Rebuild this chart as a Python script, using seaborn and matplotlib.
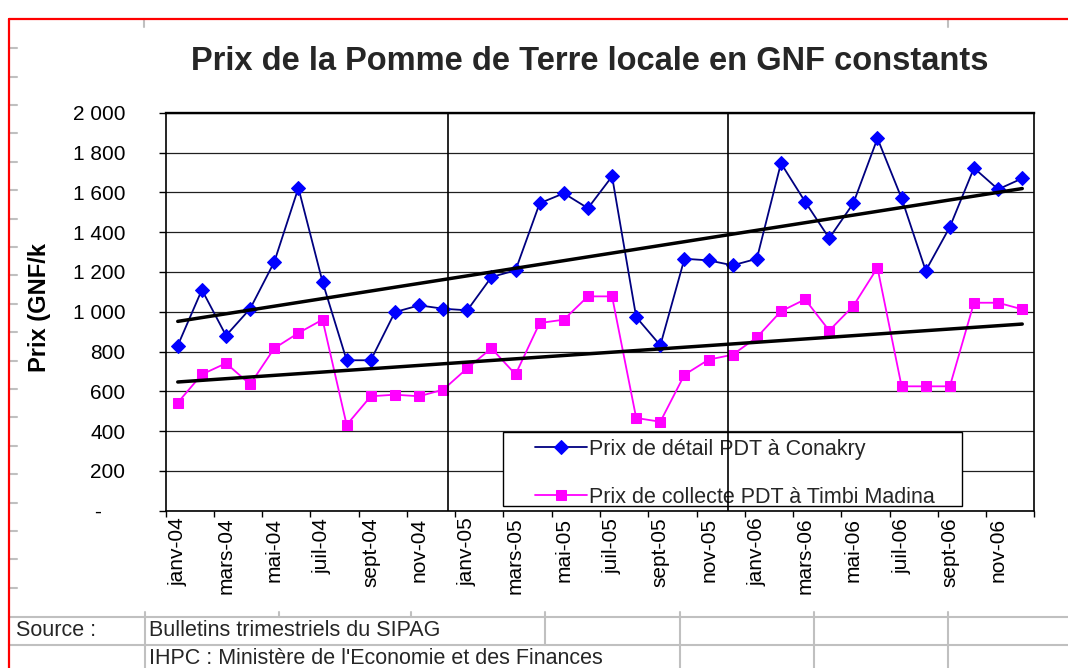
import numpy as np
import matplotlib.pyplot as plt
import matplotlib.transforms as mtransforms
from matplotlib.patches import Rectangle
import seaborn as sns

# data (GNF constants / kg), janv-04 .. déc-06
mois_noms = ['janv', 'févr', 'mars', 'avr', 'mai', 'juin',
             'juil', 'août', 'sept', 'oct', 'nov', 'déc']
annees = ['04', '05', '06']
mois = [f'{m}-{a}' for a in annees for m in mois_noms]

prix_detail = [830, 1110, 880, 1015, 1250, 1622, 1150, 756, 756, 998, 1032, 1015,
               1007, 1174, 1208, 1545, 1595, 1520, 1680, 973, 831, 1266, 1258, 1233,
               1266, 1746, 1553, 1369, 1545, 1871, 1570, 1206, 1426, 1722, 1615, 1670]
prix_collecte = [543, 685, 741, 635, 816, 893, 960, 431, 575, 583, 575, 608,
                 716, 816, 685, 943, 960, 1077, 1077, 466, 447, 683, 759, 784,
                 871, 1002, 1062, 905, 1029, 1221, 625, 625, 625, 1045, 1045, 1012]

y_ticks = [0, 200, 400, 600, 800, 1000, 1200, 1400, 1600, 1800, 2000]
y_labels = ['-', '200', '400', '600', '800', '1 000', '1 200', '1 400',
            '1 600', '1 800', '2 000']

label_detail = 'Prix de détail PDT à Conakry'
label_collecte = 'Prix de collecte PDT à Timbi Madina'

sns.set_theme(style='white')
plt.rcParams['font.family'] = ['Liberation Sans', 'DejaVu Sans']

W, H = 1068, 668
fig = plt.figure(figsize=(W / 100, H / 100), dpi=100)
fig.patch.set_facecolor('white')

# sheet background (cells around the chart object), in pixel coords
bg = fig.add_axes([0, 0, 1, 1], zorder=0)
bg.set_xlim(0, W)
bg.set_ylim(H, 0)
bg.axis('off')
grey = '#C0C0C0'
for y in np.arange(48.3, 600, 28.4):
    bg.plot([9, 17], [y, y], color=grey, lw=1.5)
for x in [144, 948]:
    bg.plot([x, x], [19, 27], color=grey, lw=1.5)
for y in [617, 645]:
    bg.plot([9, W], [y, y], color=grey, lw=1.5)
bg.plot([145, 145], [612, H], color=grey, lw=1.5)
for x in [279, 411]:
    bg.plot([x, x], [612, 617], color=grey, lw=1.5)
bg.plot([545, 545], [612, 645], color=grey, lw=1.5)
for x in [680, 814, 948]:
    bg.plot([x, x], [612, H], color=grey, lw=1.5)
bg.plot([9, W], [19, 19], color='#FF0000', lw=1.6)
bg.plot([9, 9], [19, H], color='#FF0000', lw=1.6)

bg.text(16, 631, 'Source :', fontsize=15.5, va='center', ha='left')
bg.text(149, 631, 'Bulletins trimestriels du SIPAG', fontsize=15.5, va='center', ha='left')
bg.text(149, 658, "IHPC : Ministère de l'Economie et des Finances", fontsize=15.5,
        va='center', ha='left')

bg.text(590, 61, 'Prix de la Pomme de Terre locale en GNF constants',
        fontsize=23.5, fontweight='bold', ha='center', va='center')

# chart
ax = fig.add_axes([165.7 / W, 1 - 510.7 / H, 868.6 / W, 398 / H], zorder=1)
ax.set_facecolor('white')
idx = np.arange(len(mois))

sns.lineplot(x=idx, y=prix_detail, ax=ax, color='#000080', lw=1.3, marker='D',
             markersize=7.3, markerfacecolor='#0000FF', markeredgecolor='#0000FF',
             label=label_detail, zorder=3)
sns.lineplot(x=idx, y=prix_collecte, ax=ax, color='#FF00FF', lw=1.3, marker='s',
             markersize=7.5, markerfacecolor='#FF00FF', markeredgecolor='#FF00FF',
             label=label_collecte, zorder=3)

# linear trends
sns.regplot(x=idx, y=prix_detail, ax=ax, scatter=False, ci=None, truncate=True,
            color='black', line_kws={'lw': 2.5, 'zorder': 4})
sns.regplot(x=idx, y=prix_collecte, ax=ax, scatter=False, ci=None, truncate=True,
            color='black', line_kws={'lw': 2.5, 'zorder': 4})

# year separators
for xv in [11.21, 22.82]:
    ax.axvline(xv, color='black', lw=1.2, zorder=7)

ax.set_xlim(-0.5, 35.5)
ax.set_ylim(0, 2000)
ax.set_xlabel('')

ax.set_yticks(y_ticks)
ax.set_yticklabels(y_labels, fontsize=15)
ax.set_xticks(np.arange(-0.5, 36, 2))
ax.set_xticklabels([])
ax.set_xticks(idx[::2], minor=True)
ax.set_xticklabels(mois[::2], minor=True, rotation=90, fontsize=15)
ax.tick_params(axis='x', which='major', bottom=True, direction='out', length=4.5,
               width=1, color='black')
ax.tick_params(axis='x', which='minor', bottom=True, length=0, pad=5)
ax.tick_params(axis='y', left=True, direction='out', length=5, width=1,
               color='black', pad=24, labelcolor='black')
ax.tick_params(axis='x', labelcolor='black', which='both')

# "-" for zero sits further left, as in the sheet's number format
zero_lbl = ax.get_yticklabels()[0]
zero_lbl.set_transform(zero_lbl.get_transform() +
                       mtransforms.ScaledTranslation(-0.24, 0, fig.dpi_scale_trans))

ax.yaxis.grid(True, color='#202020', lw=0.9)
ax.xaxis.grid(False)
ax.set_axisbelow(True)
for name, sp in ax.spines.items():
    sp.set_visible(True)
    sp.set_color('black')
    sp.set_linewidth(1.2)
ax.spines['top'].set_linewidth(1.7)

ax.set_ylabel('Prix (GNF/k', fontsize=17, fontweight='bold', color='black')
ax.yaxis.label.set_va('center')
ax.yaxis.set_label_coords(-0.145, 0.51)

# legend box + entries
ax.add_patch(Rectangle((0.3887, 0.0118), 0.5283, 0.1852, transform=ax.transAxes,
                       facecolor='white', edgecolor='black', lw=1.0, zorder=5))
handles, labels = ax.get_legend_handles_labels()
leg = ax.legend(handles, labels, loc='upper left', bbox_to_anchor=(0.4252, 0.181),
                frameon=False, fontsize=15.5, handlelength=2.4, handletextpad=0.1,
                labelspacing=1.25, borderpad=0, borderaxespad=0)
leg.set_zorder(6)

fig.savefig('out.png', dpi=100, facecolor='white')
